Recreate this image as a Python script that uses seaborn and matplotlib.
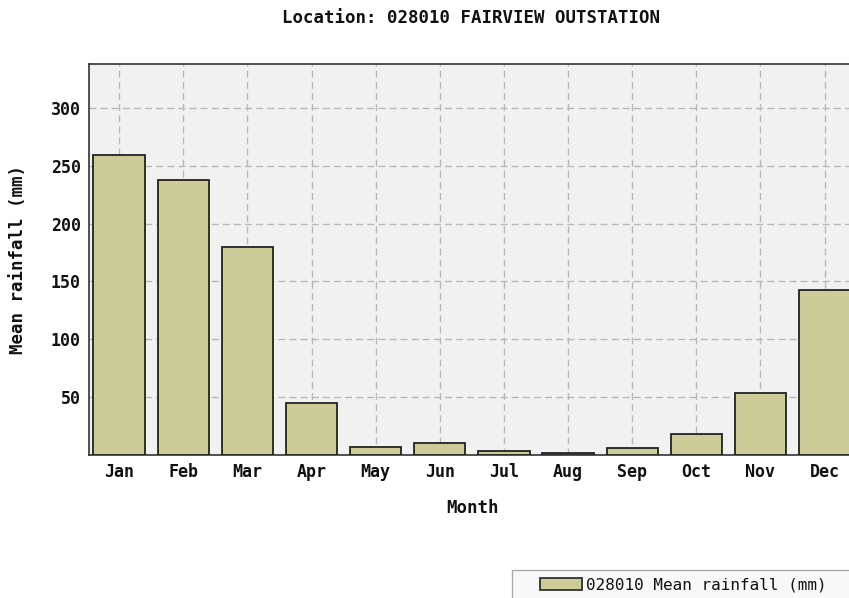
import pandas as pd
import numpy as np
import matplotlib.pyplot as plt
import matplotlib.ticker as mtick
import seaborn as sns

months = ['Jan', 'Feb', 'Mar', 'Apr', 'May', 'Jun', 'Jul', 'Aug', 'Sep', 'Oct', 'Nov', 'Dec']
rainfall = [259.5, 238, 180, 45, 7, 10, 3.5, 1.5, 6, 18, 54, 143]
series_name = '028010 Mean rainfall (mm)'

df = pd.DataFrame({'Month': months, 'Rain': rainfall})

sns.set_style('white')
plt.rcParams['font.family'] = ['DejaVu Sans Mono']

W, H = 849, 598
fig = plt.figure(figsize=(W / 100, H / 100), dpi=100)
ax = fig.add_axes([89/W, (H-455)/H, 760/W + 0.003, (455-64)/H])
ax.set_facecolor('#f1f1f1')

sns.barplot(data=df, x='Month', y='Rain', color='#cccc99', edgecolor='#222222',
            linewidth=1.3, width=0.8, saturation=1, ax=ax, zorder=3)

ax.set_xlim(-0.47, 11.42)
ax.set_ylim(0, 338)
ax.yaxis.set_major_locator(mtick.FixedLocator([50, 100, 150, 200, 250, 300]))
ax.yaxis.set_minor_locator(mtick.MultipleLocator(10))

ax.grid(True, which='major', color='#b8b8b8', linestyle=(0, (5, 3)), linewidth=1, zorder=0)
ax.set_axisbelow(True)

ax.tick_params(axis='both', which='major', direction='in', length=5, width=1.2,
               color='#222222', labelsize=12, pad=6, labelcolor='#111111')
ax.tick_params(axis='y', which='minor', direction='in', length=3, width=1, color='#222222')
for lab in ax.get_xticklabels() + ax.get_yticklabels():
    lab.set_fontweight('bold')

for s in ['left', 'bottom', 'top']:
    ax.spines[s].set_color('#333333')
    ax.spines[s].set_linewidth(1.2)
ax.spines['right'].set_visible(False)

ax.set_xlabel('Month', fontweight='bold', fontsize=12.5, color='#111111')
ax.set_ylabel('Mean rainfall (mm)', fontweight='bold', fontsize=12.5, color='#111111')
ax.xaxis.set_label_coords((471 - 89) / 760, (455 - 508) / 391)
ax.yaxis.set_label_coords((18 - 89) / 760, 0.5)
for lbl in (ax.xaxis.label, ax.yaxis.label):
    lbl.set_va('center')

fig.text(471/W, 1 - 18/H, 'Location: 028010 FAIRVIEW OUTSTATION', ha='center', va='center',
         fontweight='bold', fontsize=12.5, color='#111111')

# legend box, running off the right/bottom edge like the original
box = plt.Rectangle((512/W, -0.01), 0.5, (H - 570)/H + 0.01, transform=fig.transFigure,
                    facecolor='#f8f8f8', edgecolor='#aaaaaa', linewidth=1)
fig.patches.append(box)

handle = plt.Rectangle((0, 0), 1, 1, facecolor='#cccc99', edgecolor='#222222', linewidth=1.2)
leg = fig.legend([handle], [series_name], loc='center left', bbox_to_anchor=(540/W, 1 - 585/H),
                 frameon=False, fontsize=11.5, handlelength=2.63, handleheight=0.75,
                 handletextpad=0.25, borderpad=0, borderaxespad=0, labelcolor='#111111')

fig.savefig('out.png', dpi=100)
